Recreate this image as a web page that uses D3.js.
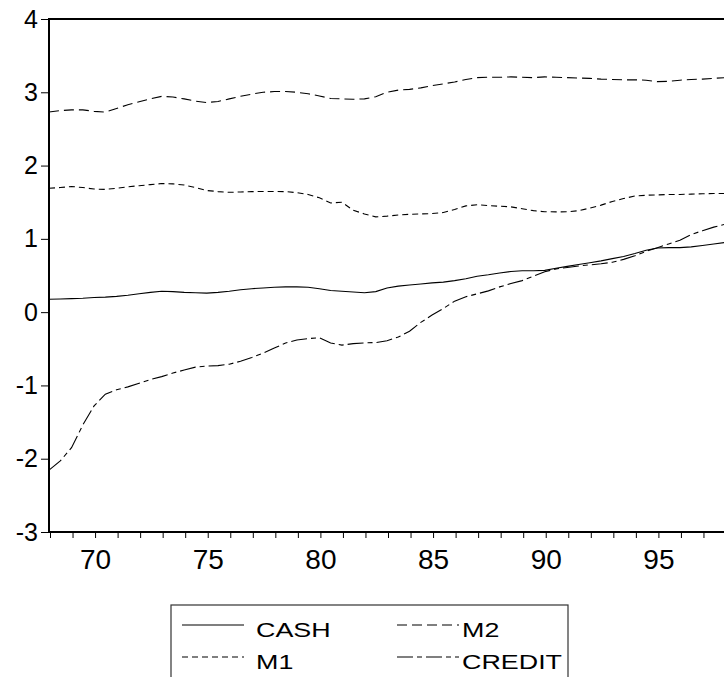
<!DOCTYPE html>
<html>
<head>
<meta charset="utf-8">
<script src="https://cdn.jsdelivr.net/npm/d3@7"></script>
<style>
	body { margin: 0; background: #fff; }
	text { font-family: "Liberation Sans", Arial, sans-serif; fill: #000; }
</style>
</head>
<body>
<svg id="chart" width="724" height="677"></svg>
<script>
// half-year dates, 1968 to 1998
var years = [68, 68.5, 69, 69.5, 70, 70.5, 71, 71.5, 72, 72.5, 73, 73.5, 74, 74.5, 75, 75.5,
	76, 76.5, 77, 77.5, 78, 78.5, 79, 79.5, 80, 80.5, 81, 81.5, 82, 82.5, 83, 83.5,
	84, 84.5, 85, 85.5, 86, 86.5, 87, 87.5, 88, 88.5, 89, 89.5, 90, 90.5, 91, 91.5,
	92, 92.5, 93, 93.5, 94, 94.5, 95, 95.5, 96, 96.5, 97, 97.5, 98];

var cash = [0.175, 0.18, 0.185, 0.19, 0.2, 0.205, 0.215, 0.23, 0.25, 0.27, 0.285, 0.28, 0.27, 0.265, 0.26, 0.27,
	0.285, 0.305, 0.32, 0.33, 0.34, 0.345, 0.345, 0.34, 0.32, 0.295, 0.285, 0.275, 0.265, 0.28, 0.33, 0.355,
	0.37, 0.385, 0.4, 0.41, 0.43, 0.455, 0.49, 0.51, 0.535, 0.555, 0.565, 0.565, 0.57, 0.6, 0.625, 0.65,
	0.675, 0.7, 0.73, 0.76, 0.8, 0.845, 0.875, 0.88, 0.88, 0.89, 0.91, 0.93, 0.95];

var m1 = [1.69, 1.7, 1.715, 1.7, 1.68, 1.675, 1.69, 1.71, 1.725, 1.74, 1.755, 1.75, 1.735, 1.7, 1.66, 1.645,
	1.635, 1.64, 1.645, 1.646, 1.646, 1.645, 1.63, 1.605, 1.56, 1.49, 1.5, 1.39, 1.34, 1.3, 1.31, 1.325,
	1.335, 1.34, 1.345, 1.36, 1.4, 1.45, 1.465, 1.455, 1.445, 1.437, 1.41, 1.385, 1.37, 1.368, 1.369, 1.385,
	1.42, 1.46, 1.51, 1.55, 1.585, 1.595, 1.6, 1.605, 1.606, 1.61, 1.615, 1.618, 1.62];

var m2 = [2.73, 2.75, 2.76, 2.76, 2.74, 2.73, 2.78, 2.83, 2.87, 2.91, 2.945, 2.935, 2.91, 2.88, 2.86, 2.875,
	2.91, 2.945, 2.975, 3.0, 3.01, 3.01, 3.0, 2.98, 2.95, 2.915, 2.91, 2.905, 2.91, 2.94, 3.0, 3.03,
	3.04, 3.06, 3.09, 3.115, 3.14, 3.175, 3.2, 3.205, 3.205, 3.21, 3.205, 3.2, 3.21, 3.205, 3.2, 3.195,
	3.19, 3.18, 3.175, 3.17, 3.17, 3.165, 3.145, 3.15, 3.165, 3.175, 3.18, 3.19, 3.2];

var credit = [-2.155, -2.03, -1.85, -1.54, -1.28, -1.12, -1.06, -1.02, -0.97, -0.92, -0.88, -0.83, -0.79, -0.75, -0.735, -0.73,
	-0.71, -0.67, -0.62, -0.56, -0.49, -0.42, -0.38, -0.36, -0.35, -0.42, -0.45, -0.43, -0.42, -0.415, -0.39, -0.34,
	-0.26, -0.14, -0.04, 0.05, 0.15, 0.21, 0.25, 0.29, 0.345, 0.39, 0.43, 0.49, 0.55, 0.59, 0.61, 0.63,
	0.645, 0.66, 0.68, 0.72, 0.77, 0.83, 0.88, 0.93, 0.98, 1.06, 1.11, 1.16, 1.2];

var yTicks = [-3, -2, -1, 0, 1, 2, 3, 4];
var xLabels = [70, 75, 80, 85, 90, 95];

var series = [
	{name: "CASH", values: cash, dash: null},
	{name: "M1", values: m1, dash: "6,4"},
	{name: "M2", values: m2, dash: "10,5"},
	{name: "CREDIT", values: credit, dash: "16,4,5,4"}
];

var svg = d3.select("#chart");

var x = d3.scaleLinear()
	.domain([68, 98])
	.range([49, 725]);

var y = d3.scaleLinear()
	.domain([-3, 4])
	.range([532, 19]);

// series lines
var line = d3.line()
	.x(function(d) { return x(d[0]); })
	.y(function(d) { return y(d[1]); });

svg.append("g")
	.attr("class", "lines")
	.selectAll("path")
	.data(series)
	.enter()
	.append("path")
	.attr("d", function(s) { return line(years.map(function(t, i) { return [t, s.values[i]]; })); })
	.attr("fill", "none")
	.attr("stroke", "#000")
	.attr("stroke-width", 1.1)
	.attr("stroke-dasharray", function(s) { return s.dash; });

// frame (right side runs off the page)
svg.append("path")
	.attr("d", "M" + (x.range()[1] + 5) + "," + y(4) + "H" + x(68) + "V" + y(-3) + "H" + (x.range()[1] + 5))
	.attr("fill", "none")
	.attr("stroke", "#000")
	.attr("stroke-width", 2);

// y axis, plain hyphen for minus like the original
var yAxis = d3.axisLeft(y)
	.tickValues(yTicks)
	.tickSize(8)
	.tickPadding(3)
	.tickFormat(function(d) { return String(d); });

svg.append("g")
	.attr("transform", "translate(" + x(68) + ",0)")
	.call(yAxis)
	.call(function(g) { g.select(".domain").remove(); })
	.selectAll("text")
	.attr("font-size", "25px")
	.attr("fill", "#000")
	.style("font-family", "Liberation Sans, Arial, sans-serif");

// x axis: a tick each year, labels every 5
var xAxis = d3.axisBottom(x)
	.tickValues(d3.range(68, 98, 1))
	.tickSize(6)
	.tickPadding(11)
	.tickFormat(function(d) { return xLabels.indexOf(d) >= 0 ? d : ""; });

svg.append("g")
	.attr("transform", "translate(1," + y(-3) + ")")
	.call(xAxis)
	.call(function(g) { g.select(".domain").remove(); })
	.selectAll("text")
	.attr("font-size", "28px")
	.attr("fill", "#000")
	.style("font-family", "Liberation Sans, Arial, sans-serif");

svg.selectAll(".tick line").attr("stroke", "#000");

// legend
var legend = svg.append("g")
	.attr("class", "legend");

legend.append("rect")
	.attr("x", 171)
	.attr("y", 605)
	.attr("width", 397)
	.attr("height", 90)
	.attr("fill", "none")
	.attr("stroke", "#333")
	.attr("stroke-width", 1.2);

var items = legend.selectAll("g.item")
	.data([series[0], series[2], series[1], series[3]])
	.enter()
	.append("g")
	.attr("class", "item")
	.attr("transform", function(d, i) {
		return "translate(" + (i % 2 == 0 ? 182 : 397) + "," + (i < 2 ? 625 : 657) + ")";
	});

items.append("line")
	.attr("x1", 0)
	.attr("x2", 62)
	.attr("stroke", "#000")
	.attr("stroke-width", 1.1)
	.attr("stroke-dasharray", function(d) { return d.dash; });

// the original type is drawn wide, so stretch it a bit
items.append("text")
	.attr("transform", function(d, i) { return "translate(" + (i % 2 == 0 ? 74 : 65) + ",12) scale(1.28,1)"; })
	.attr("font-size", "21px")
	.text(function(d) { return d.name; });
</script>
</body>
</html>
